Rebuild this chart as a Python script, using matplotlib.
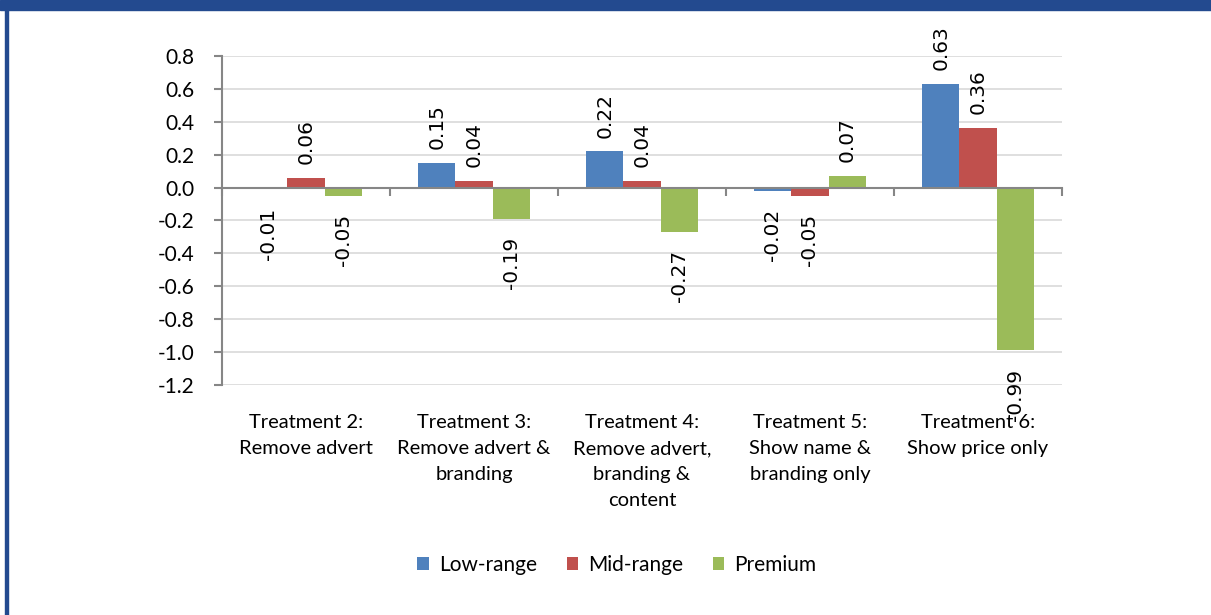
import matplotlib.pyplot as plt
import matplotlib.transforms as mtransforms
import numpy as np
from matplotlib.patches import Rectangle

# -----------------------------
# Data
# -----------------------------
categories = [
    "Treatment 2:\nRemove advert",
    "Treatment 3:\nRemove advert &\nbranding",
    "Treatment 4:\nRemove advert,\nbranding &\ncontent",
    "Treatment 5:\nShow name &\nbranding only",
    "Treatment 6:\nShow price only",
]
series_names = ["Low-range", "Mid-range", "Premium"]
low_range = [-0.01, 0.15, 0.22, -0.02, 0.63]
mid_range = [0.06, 0.04, 0.04, -0.05, 0.36]
premium = [-0.05, -0.19, -0.27, 0.07, -0.99]
y_ticks = [0.8, 0.6, 0.4, 0.2, 0.0, -0.2, -0.4, -0.6, -0.8, -1.0, -1.2]

colors = ["#4F81BD", "#C0504D", "#9BBB59"]

plt.rcParams["font.family"] = ["Lato", "DejaVu Sans"]

fig = plt.figure(figsize=(12.11, 6.15), dpi=100)

# -----------------------------
# Frame (top band + left border)
# -----------------------------
fig.patches.append(Rectangle((0, 1 - 10 / 615), 1, 10 / 615,
                             transform=fig.transFigure, color="#234A8F", zorder=0))
fig.patches.append(Rectangle((5 / 1211, 0), 2.5 / 1211, 1,
                             transform=fig.transFigure, color="#234A8F", zorder=0))

ax = fig.add_axes([222 / 1211, 1 - 385 / 615, (1062 - 222) / 1211, (385 - 56) / 615])

n = len(categories)
x = np.arange(n)
bar_w = 1 / 4.5

# -----------------------------
# Bars + data labels
# -----------------------------
for i, (vals, col) in enumerate(zip([low_range, mid_range, premium], colors)):
    pos = x + (i - 1) * bar_w
    ax.bar(pos, vals, width=bar_w, color=col, label=series_names[i], zorder=3)
    for p, v in zip(pos, vals):
        if v >= 0:
            ax.annotate(f"{v:.2f}", (p, v), xytext=(0, 10), textcoords="offset points",
                        rotation=90, ha="center", va="bottom", fontsize=14.5,
                        family="DejaVu Sans", annotation_clip=False)
        else:
            ax.annotate(f"{v:.2f}", (p, v), xytext=(0, -13), textcoords="offset points",
                        rotation=90, ha="center", va="top", fontsize=14.5,
                        family="DejaVu Sans", annotation_clip=False)

# -----------------------------
# Axes styling
# -----------------------------
ax.set_ylim(-1.2, 0.8)
ax.set_xlim(-0.5, n - 0.5)
ax.set_yticks(y_ticks)
ax.set_yticklabels([f"{t:.1f}" for t in y_ticks], fontsize=15)
ax.yaxis.grid(True, color="#D9D9D9", linewidth=1.2, zorder=0)
ax.set_axisbelow(True)

for s in ["top", "right"]:
    ax.spines[s].set_visible(False)
ax.spines["left"].set_color("#868686")
ax.spines["left"].set_linewidth(1.5)
ax.spines["bottom"].set_position(("data", 0))
ax.spines["bottom"].set_color("#868686")
ax.spines["bottom"].set_linewidth(1.5)
ax.spines["bottom"].set_zorder(4)

ax.tick_params(axis="y", length=6, width=1.5, color="#868686", pad=14)
ax.set_xticks(np.arange(n + 1) - 0.5)
ax.set_xticklabels([])
ax.tick_params(axis="x", length=6, width=1.5, color="#868686", direction="out")

# Category labels below the plot area
offset = mtransforms.ScaledTranslation(0, -21 / 72, fig.dpi_scale_trans)
for xi, lab in zip(x, categories):
    ax.text(xi, -1.2, lab, transform=ax.transData + offset, ha="center", va="top",
            fontsize=14.5, linespacing=1.65)

ax.legend(loc="center", bbox_to_anchor=(617 / 1211, 1 - 565 / 615),
          bbox_transform=fig.transFigure, ncol=3, frameon=False, fontsize=15,
          handlelength=0.55, handleheight=0.55, handletextpad=0.5, columnspacing=1.4)

plt.savefig("out.png", dpi=100)
